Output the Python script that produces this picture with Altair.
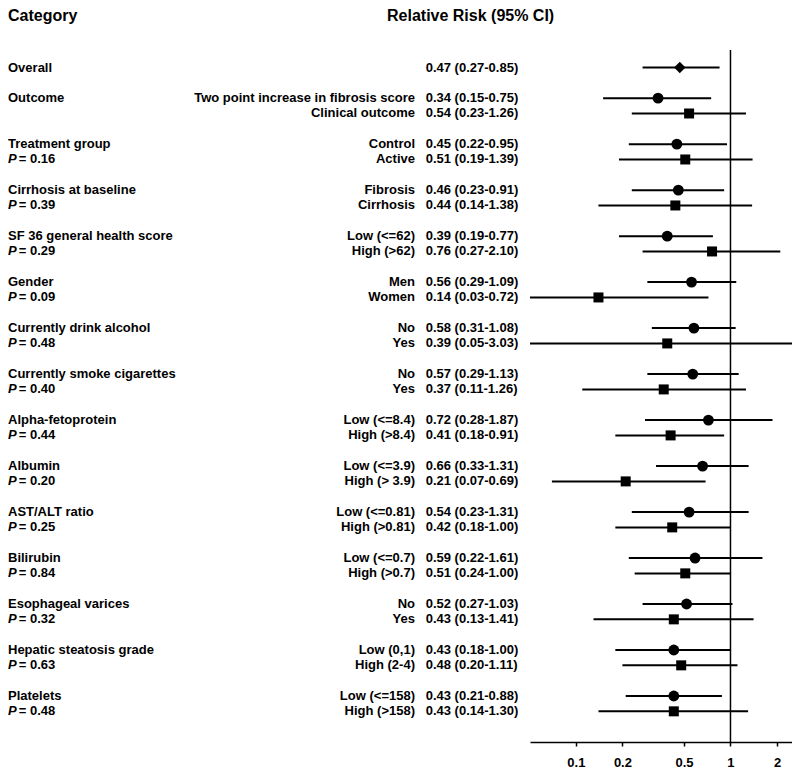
import altair as alt
import pandas as pd

FONT = "Liberation Sans, Arial, Helvetica, sans-serif"

headers = ["Category", "Relative Risk (95% CI)"]

categories = [
    "Overall", "Outcome", "Treatment group", "Cirrhosis at baseline",
    "SF 36 general health score", "Gender", "Currently drink alcohol",
    "Currently smoke cigarettes", "Alpha-fetoprotein", "Albumin",
    "AST/ALT ratio", "Bilirubin", "Esophageal varices",
    "Hepatic steatosis grade", "Platelets",
]
p_values = [None, None, "0.16", "0.39", "0.29", "0.09", "0.48", "0.40",
            "0.44", "0.20", "0.25", "0.84", "0.32", "0.63", "0.48"]

subgroups = [
    [""],
    ["Two point increase in fibrosis score", "Clinical outcome"],
    ["Control", "Active"],
    ["Fibrosis", "Cirrhosis"],
    ["Low (<=62)", "High (>62)"],
    ["Men", "Women"],
    ["No", "Yes"],
    ["No", "Yes"],
    ["Low (<=8.4)", "High (>8.4)"],
    ["Low (<=3.9)", "High (> 3.9)"],
    ["Low (<=0.81)", "High (>0.81)"],
    ["Low (<=0.7)", "High (>0.7)"],
    ["No", "Yes"],
    ["Low (0,1)", "High (2-4)"],
    ["Low (<=158)", "High (>158)"],
]
rr = [[0.47], [0.34, 0.54], [0.45, 0.51], [0.46, 0.44], [0.39, 0.76],
      [0.56, 0.14], [0.58, 0.39], [0.57, 0.37], [0.72, 0.41], [0.66, 0.21],
      [0.54, 0.42], [0.59, 0.51], [0.52, 0.43], [0.43, 0.48], [0.43, 0.43]]
lo = [[0.27], [0.15, 0.23], [0.22, 0.19], [0.23, 0.14], [0.19, 0.27],
      [0.29, 0.03], [0.31, 0.05], [0.29, 0.11], [0.28, 0.18], [0.33, 0.07],
      [0.23, 0.18], [0.22, 0.24], [0.27, 0.13], [0.18, 0.20], [0.21, 0.14]]
hi = [[0.85], [0.75, 1.26], [0.95, 1.39], [0.91, 1.38], [0.77, 2.10],
      [1.09, 0.72], [1.08, 3.03], [1.13, 1.26], [1.87, 0.91], [1.31, 0.69],
      [1.31, 1.00], [1.61, 1.00], [1.03, 1.41], [1.00, 1.11], [0.88, 1.30]]

tick_values = [0.1, 0.2, 0.5, 1, 2]

# ---- build tables (row index: overall 0, then groups of two rows, one blank row between)
rows = []
cats = []
for k, cat in enumerate(categories):
    first = 0 if k == 0 else 3 * k - 1
    cats.append({"row": first, "prow": first + 1, "category": cat,
                 "p": p_values[k]})
    for j, lab in enumerate(subgroups[k]):
        kind = "overall" if k == 0 else ("first" if j == 0 else "second")
        rows.append({
            "row": first + j, "label": lab, "rr": rr[k][j], "lo": lo[k][j],
            "hi": hi[k][j], "kind": kind,
            "txt": f"{rr[k][j]:.2f} ({lo[k][j]:.2f}-{hi[k][j]:.2f})",
        })
df = pd.DataFrame(rows)
cdf = pd.DataFrame(cats)
pdf = cdf[cdf["p"].notna()].copy()
pdf["ptxt"] = "= " + pdf["p"]

xs = alt.Scale(type="log", domain=[0.0505, 2.5], clamp=True)
ys = alt.Scale(domain=[-1.1416, 44.0], reverse=True)

base = alt.Chart(df)

ref = alt.Chart(pd.DataFrame({"v": [1]})).mark_rule(
    color="black", strokeWidth=1.5).encode(x=alt.X("v:Q", scale=xs))

ci = base.mark_rule(color="black", strokeWidth=2).encode(
    x=alt.X("lo:Q", scale=xs,
            axis=alt.Axis(values=tick_values, format="~g", title=None,
                          grid=False, domainColor="black", domainWidth=1.5,
                          tickColor="black", tickWidth=1.5, tickSize=4,
                          labelFont=FONT, labelFontWeight="bold",
                          labelFontSize=13, labelColor="black",
                          labelPadding=10)),
    x2="hi:Q",
    y=alt.Y("row:Q", scale=ys, axis=None),
)

def pts(kind, shape, size):
    return base.transform_filter(alt.datum.kind == kind).mark_point(
        shape=shape, filled=True, color="black", opacity=1, size=size
    ).encode(x=alt.X("rr:Q", scale=xs), y=alt.Y("row:Q", scale=ys))

diamond = pts("overall", "diamond", 130)
circle = pts("first", "circle", 118)
square = pts("second", "square", 100)

def txt(data, field, xpos, align, ycol="row", style="normal", size=13):
    return alt.Chart(data).mark_text(
        align=align, baseline="middle", font=FONT, fontWeight="bold",
        fontStyle=style, fontSize=size, color="black"
    ).encode(x=alt.value(xpos), y=alt.Y(f"{ycol}:Q", scale=ys),
             text=f"{field}:N")

cat_txt = txt(cdf, "category", -522, "left")
p_txt = txt(pdf, "p", -522, "left", ycol="prow", style="italic").encode(
    text=alt.value("P"))
p_val = txt(pdf, "ptxt", -511.3, "left", ycol="prow")
sub_txt = txt(df, "label", -115, "right")
rr_txt = txt(df, "txt", -104.3, "left")

hdf = pd.DataFrame({"h": headers})
h1 = alt.Chart(hdf.iloc[[0]]).mark_text(
    align="left", baseline="middle", font=FONT, fontWeight="bold",
    fontSize=16, color="black").encode(
    x=alt.value(-522), y=alt.value(-34), text="h:N")
h2 = alt.Chart(hdf.iloc[[1]]).mark_text(
    align="left", baseline="middle", font=FONT, fontWeight="bold",
    fontSize=16, color="black").encode(
    x=alt.value(-143), y=alt.value(-34), text="h:N")

chart = alt.layer(
    ref, ci, diamond, circle, square,
    cat_txt, p_txt, p_val, sub_txt, rr_txt, h1, h2
).properties(
    width=262, height=692, autosize="none",
    padding={"left": 522, "top": 42, "right": 0, "bottom": 30},
    background="white",
).configure_view(stroke=None)

chart.save("out.html", embed_options={"renderer": "svg", "actions": False})
